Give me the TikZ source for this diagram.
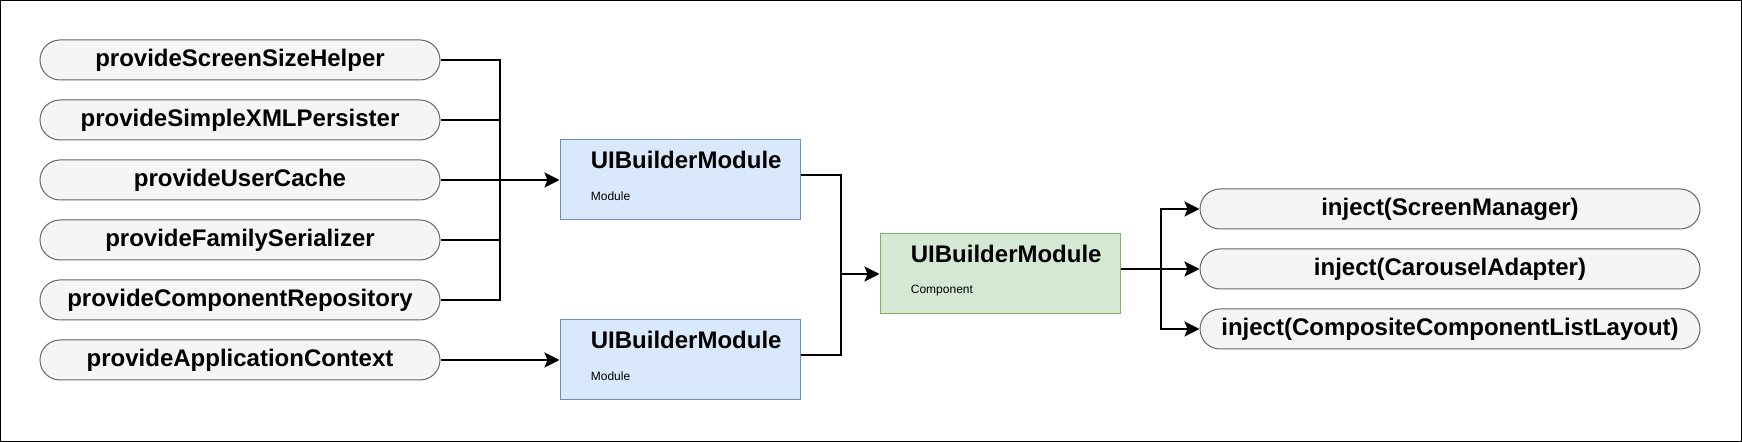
\documentclass[tikz,border=0pt]{standalone}
\usepackage{fontspec}
\setmainfont{Liberation Sans}
\usetikzlibrary{arrows.meta}
\definecolor{pillfill}{HTML}{F5F5F5}
\definecolor{pillline}{HTML}{666666}
\definecolor{modfill}{HTML}{DAE8FC}
\definecolor{modline}{HTML}{6C8EBF}
\definecolor{compfill}{HTML}{D5E8D4}
\definecolor{compline}{HTML}{82B366}
\newcommand{\bigtxt}{\fontsize{12}{14}\selectfont\bfseries}
\newcommand{\smalltxt}{\fontsize{6}{7}\selectfont}
\begin{document}
\begin{tikzpicture}[x=0.5pt,y=-0.5pt,
    pill/.style={draw=pillline,fill=pillfill,line width=0.5pt,rounded corners=10pt,minimum height=20pt,inner sep=0pt,font=\bigtxt},
    provider/.style={pill,minimum width=200pt},
    target/.style={pill,minimum width=250pt},
    module/.style={draw=modline,fill=modfill,line width=0.5pt,minimum width=120pt,minimum height=40pt},
    component/.style={module,draw=compline,fill=compfill},
    title/.style={anchor=west,inner sep=0pt,font=\bigtxt},
    kind/.style={anchor=west,inner sep=0pt,font=\smalltxt},
    wire/.style={line width=1.3pt},
    arrow/.style={wire,-{Stealth[length=7.5pt,width=7.5pt,inset=1.5pt]}}]
        \useasboundingbox (0,0) rectangle (1742,442);
        \draw[line width=0.6pt] (0.6,0.6) rectangle (1741.4,441.4);
        \node[provider] (ScreenSizeHelper) at (240,60) {provideScreenSizeHelper};
        \node[provider] (SimpleXMLPersister) at (240,120) {provideSimpleXMLPersister};
        \node[provider] (UserCache) at (240,180) {provideUserCache};
        \node[provider] (FamilySerializer) at (240,240) {provideFamilySerializer};
        \node[provider] (ComponentRepository) at (240,300) {provideComponentRepository};
        \node[provider] (ApplicationContext) at (240,360) {provideApplicationContext};
        \node[module] (ProviderModule) at (680,180) {};
        \node[module] (ContextModule) at (680,360) {};
        \node[component] (BuilderComponent) at (1000,274) {};
        \node[title] (ProviderModuleTitle) at ([xshift=15.5pt,yshift=-10pt]ProviderModule.north west) {UIBuilderModule};
        \node[kind] (ProviderModuleKind) at ([xshift=15.5pt,yshift=-28.5pt]ProviderModule.north west) {Module};
        \node[title] (ContextModuleTitle) at ([xshift=15.5pt,yshift=-10pt]ContextModule.north west) {UIBuilderModule};
        \node[kind] (ContextModuleKind) at ([xshift=15.5pt,yshift=-28.5pt]ContextModule.north west) {Module};
        \node[title] (BuilderComponentTitle) at ([xshift=15.5pt,yshift=-10pt]BuilderComponent.north west) {UIBuilderModule};
        \node[kind] (BuilderComponentKind) at ([xshift=15.5pt,yshift=-28.5pt]BuilderComponent.north west) {Component};
        \node[target] (ScreenManager) at (1450,209) {inject(ScreenManager)\hspace{19pt}};
        \node[target] (CarouselAdapter) at (1450,269) {inject(CarouselAdapter)\hspace{19pt}};
        \node[target] (ListLayout) at (1450,329) {inject(CompositeComponentListLayout)};
        \coordinate (modbus) at (500,180);
        \coordinate (compbus) at (841,274);
        \coordinate (injbus) at (1161,269);
        \draw[wire] (ScreenSizeHelper.east) -| (modbus);
        \draw[wire] (SimpleXMLPersister.east) -| (modbus);
        \draw[wire] (FamilySerializer.east) -| (modbus);
        \draw[wire] (ComponentRepository.east) -| (modbus);
        \draw[arrow] (UserCache.east) -- (ProviderModule.west);
        \draw[arrow] (ApplicationContext.east) -- (ContextModule.west);
        \draw[wire] ([yshift=2.5pt]ProviderModule.east) -| (compbus);
        \draw[wire] ([yshift=2.5pt]ContextModule.east) -| (compbus);
        \draw[arrow] (compbus) -- (BuilderComponent.west);
        \draw[wire] ([yshift=2.5pt]BuilderComponent.east) -- (injbus);
        \draw[arrow] (injbus) |- (ScreenManager.west);
        \draw[arrow] (injbus) -- (CarouselAdapter.west);
        \draw[arrow] (injbus) |- (ListLayout.west);
      \end{tikzpicture}
\end{document}
